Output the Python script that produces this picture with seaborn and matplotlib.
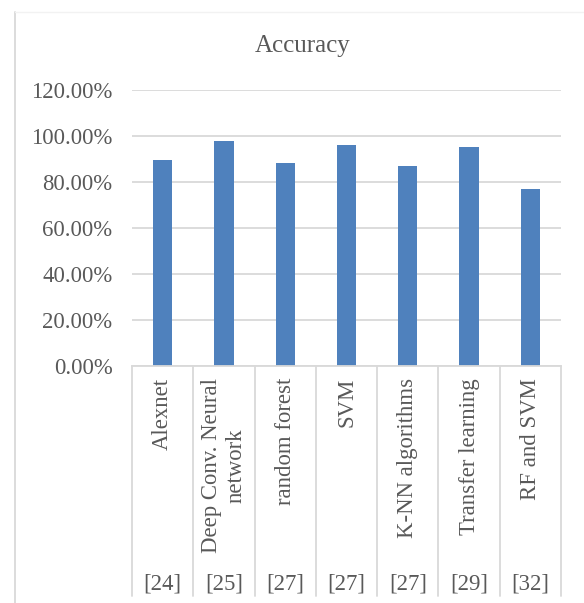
import matplotlib
matplotlib.use("Agg")
import matplotlib.pyplot as plt
import matplotlib.transforms as mtransforms
from matplotlib.lines import Line2D
import seaborn as sns
import pandas as pd

# ---- data ----
methods = ["Alexnet", "Deep Conv. Neural\nnetwork", "random forest", "SVM",
           "K-NN algorithms", "Transfer learning", "RF and SVM"]
refs = ["[24]", "[25]", "[27]", "[27]", "[27]", "[29]", "[32]"]
accuracy = [89.4, 97.7, 88.1, 96.0, 86.8, 95.1, 77.0]
yticks = [0, 20, 40, 60, 80, 100, 120]
title = "Accuracy"

sns.set_theme(style="white")
plt.rcParams["font.family"] = ["Liberation Serif", "DejaVu Serif"]

W, H = 584, 603
fig = plt.figure(figsize=(W / 100, H / 100), dpi=100)
fig.patch.set_facecolor("white")

left, right, top, bottom = 132, 561, 90, 366
ax = fig.add_axes([left / W, 1 - bottom / H, (right - left) / W, (bottom - top) / H])

df = pd.DataFrame({"cat": [f"c{i}" for i in range(len(methods))], "acc": accuracy})
sns.barplot(data=df, x="cat", y="acc", color="#4f81bd", width=0.315,
            saturation=1, ax=ax, edgecolor="none")

fs = 16.4
ax.set_ylim(0, 120)
ax.set_xlim(-0.5, len(methods) - 0.5)
ax.set_yticks(yticks)
ax.set_yticklabels([f"{v:.2f}%" for v in yticks], fontsize=fs, color="#595959")
ax.tick_params(axis="y", length=0, pad=14)
ax.set_xticks([])
ax.set_xlabel("")
ax.set_ylabel("")
ax.grid(axis="y", color="#d9d9d9", linewidth=1.3)
ax.set_axisbelow(True)
for s in ["left", "right", "top"]:
    ax.spines[s].set_visible(False)
ax.spines["bottom"].set_color("#d9d9d9")
ax.spines["bottom"].set_linewidth(1.3)

# category axis (multi-level)
trans = mtransforms.blended_transform_factory(ax.transData, fig.transFigure)
for i in range(len(methods) + 1):
    x = i - 0.5
    ax.add_line(Line2D([x, x], [1 - bottom / H, 1 - 596 / H], transform=trans,
                       color="#d9d9d9", linewidth=1.3, clip_on=False))
for i, (m, r) in enumerate(zip(methods, refs)):
    ax.text(i, 1 - 378 / H, m, transform=trans, rotation=90, ha="center", va="top",
            multialignment="center", fontsize=fs, color="#595959", linespacing=1.2)
    ax.text(i, 1 - 584 / H, r, transform=trans, ha="center", va="center",
            fontsize=fs, color="#595959")

# title
fig.text(303 / W, 1 - 46 / H, title, ha="center", va="center", fontsize=18, color="#595959")

# chart border
fig.add_artist(Line2D([14.5 / W, 14.5 / W], [1 - 12 / H, 0], transform=fig.transFigure,
                      color="#d9d9d9", linewidth=1.3))
fig.add_artist(Line2D([14.5 / W, 1], [1 - 12 / H, 1 - 12 / H], transform=fig.transFigure,
                      color="#f2f2f2", linewidth=1.0))

fig.savefig("out.png", dpi=100, facecolor="white")
